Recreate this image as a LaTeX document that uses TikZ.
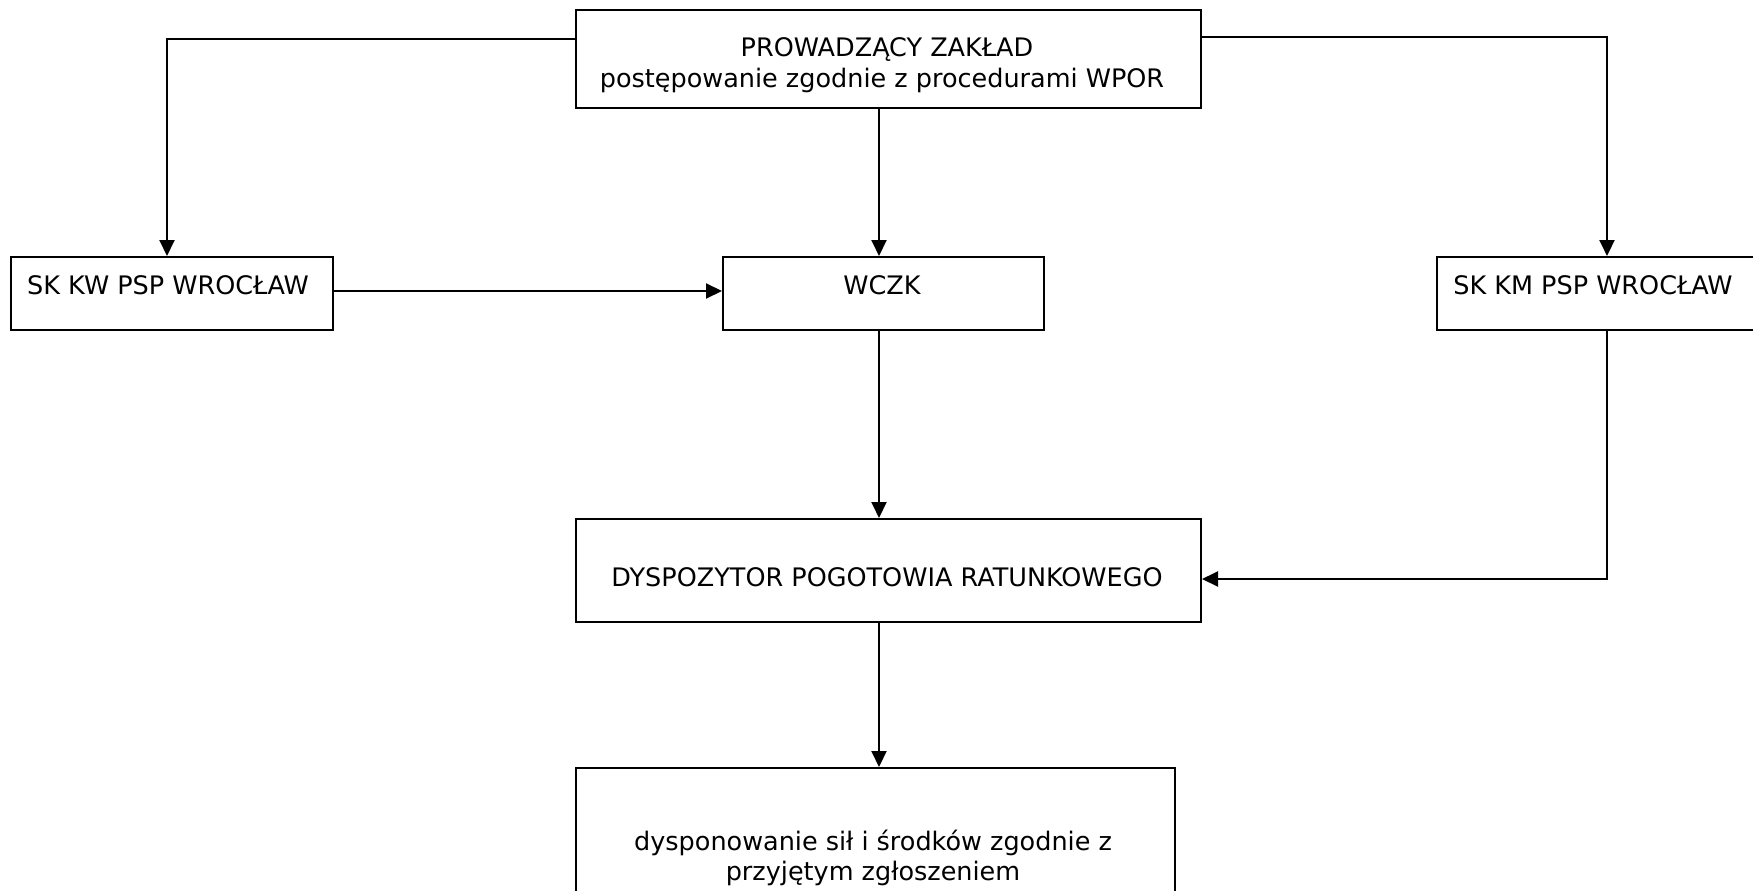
\documentclass[tikz,border=0pt]{standalone}
\usepackage{fontspec}
\setmainfont{DejaVu Sans}
\usetikzlibrary{arrows.meta}
\begin{document}
\begin{tikzpicture}[x=1pt,y=-1pt,
  boxr/.style={draw=black,line width=2pt,fill=none,inner sep=0pt,anchor=north west},
  txt/.style={inner sep=0pt,anchor=base,font=\fontsize{25.5}{30}\selectfont},
  conn/.style={line width=2pt,-{Triangle[length=16pt,width=15pt]}}]
\useasboundingbox (0,0) rectangle (1753,891);
% boxes
\node[boxr,minimum width=625pt,minimum height=98pt] (top) at (575,9) {};
\node[boxr,minimum width=322pt,minimum height=73pt] (skkw) at (10,256) {};
\node[boxr,minimum width=321pt,minimum height=73pt] (wczk) at (722,256) {};
\node[boxr,minimum width=330pt,minimum height=73pt] (skkm) at (1436,256) {};
\node[boxr,minimum width=625pt,minimum height=103pt] (dysp) at (575,518) {};
\node[boxr,minimum width=599pt,minimum height=150pt] (bot) at (575,767) {};
% texts
\node[txt] (topA) at (887,57) {PROWADZĄCY ZAKŁAD};
\node[txt] (topB) at (882,88) {postępowanie zgodnie z procedurami WPOR};
\node[txt] (skkwT) at (168,294) {SK KW PSP WROCŁAW};
\node[txt] (wczkT) at (882,294) {WCZK};
\node[txt] (skkmT) at (1593,294) {SK KM PSP WROCŁAW};
\node[txt] (dyspT) at (887,586) {DYSPOZYTOR POGOTOWIA RATUNKOWEGO};
\node[txt] (botA) at (873,850) {dysponowanie sił i środków zgodnie z};
\node[txt] (botB) at (873,880) {przyjętym zgłoszeniem};
% connector helper coordinates
\coordinate (tl) at (top.west |- 0,39);
\coordinate (tlc) at (167,39);
\coordinate (tr) at (top.east |- 0,37);
\coordinate (trc) at (1607,37);
\coordinate (kmc) at (1607,579);
% connectors
\draw[conn] (tl) -- (tlc) -- (tlc |- skkw.north);
\draw[conn] (tr) -- (trc) -- (trc |- skkm.north);
\draw[conn] (879,107) -- (879,256);
\draw[conn] (skkw.east |- 0,291) -- (wczk.west |- 0,291);
\draw[conn] (879,329) -- (879,518);
\draw[conn] (1607,329) -- (kmc) -- (dysp.east |- kmc);
\draw[conn] (879,621) -- (879,767);
\end{tikzpicture}
\end{document}
